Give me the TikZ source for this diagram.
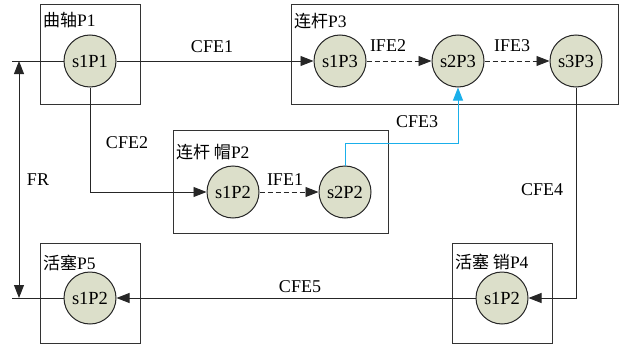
\documentclass[tikz,border=0pt]{standalone}
\usepackage{fontspec}
\setmainfont{Liberation Serif}
\newfontfamily\cjk{Noto Sans CJK SC}
\usetikzlibrary{arrows.meta}
\definecolor{cfill}{HTML}{DCDFCA}
\definecolor{cblue}{HTML}{1AAFEA}
\tikzset{
  st/.style={circle,draw=black!85,line width=1pt,fill=cfill,minimum size=52pt,inner sep=0pt,font=\fontsize{18.5}{20}\selectfont},
  part/.style={draw=black!80,line width=1pt,rectangle,inner sep=0pt},
  ttl/.style={anchor=west,inner sep=0pt,font=\fontsize{17.5}{19}\selectfont},
  lbl/.style={inner sep=0pt,font=\fontsize{18}{20}\selectfont},
  tip/.tip={Triangle[length=13pt,width=10pt]},
  conn/.style={line width=0.9pt,draw=black!85},
  arr/.style={conn,-tip},
  dsh/.style={arr,dash pattern=on 5pt off 3pt},
}
\newcommand{\zh}[1]{{\cjk\fontsize{17}{19}\selectfont #1}}
\begin{document}
\begin{tikzpicture}[x=1pt,y=-1pt]
\useasboundingbox (0,0) rectangle (623,345);
% boxes
\node[part,minimum width=100pt,minimum height=99pt] (B1) at (90,54.5) {};
\node[part,minimum width=327pt,minimum height=99pt] (B3) at (454.5,54.5) {};
\node[part,minimum width=215pt,minimum height=103pt] (B2) at (280.5,181.5) {};
\node[part,minimum width=100pt,minimum height=100pt] (B5) at (90,293) {};
\node[part,minimum width=100pt,minimum height=100pt] (B4) at (502,293) {};
% titles
\node[ttl] (t1) at (43,20) {\zh{曲轴}P1};
\node[ttl] (t3) at (294,21) {\zh{连杆}P3};
\node[ttl] (t2) at (176,152) {\zh{连杆 帽}P2};
\node[ttl] (t5) at (43,263) {\zh{活塞}P5};
\node[ttl] (t4) at (455,262) {\zh{活塞 销}P4};
% states
\node[st] (s1P1) at (90,61) {s1P1};
\node[st] (s1P3) at (340,61) {s1P3};
\node[st] (s2P3) at (458,61) {s2P3};
\node[st] (s3P3) at (576,61) {s3P3};
\node[st] (s1P2) at (233,192) {s1P2};
\node[st] (s2P2) at (345,192) {s2P2};
\node[st] (s1P2d) at (502,298) {s1P2};
\node[st] (s1P2e) at (90,298) {s1P2};
% coordinates
\coordinate (L1) at (12,61);
\coordinate (L5) at (12,298);
\coordinate (FRt) at (19,61);
\coordinate (FRb) at (19,298);
\coordinate (c3) at (458,143);
% connectors
\draw[conn] (L1) -- (s1P1);
\draw[arr] (s1P1) -- (s1P3);
\draw[dsh] (s1P3) -- (s2P3);
\draw[dsh] (s2P3) -- (s3P3);
\draw[arr] (s1P1) |- (s1P2);
\draw[dsh] (s1P2) -- (s2P2);
\draw[arr,draw=cblue] (s2P2) |- (c3) -- (s2P3);
\draw[arr] (s3P3) |- (s1P2d);
\draw[arr] (s1P2d) -- (s1P2e);
\draw[conn] (s1P2e) -- (L5);
\draw[conn,tip-tip] (FRt) -- (FRb);
% labels
\node[lbl] (lCFE1) at (212,47) {CFE1};
\node[lbl] (lIFE2) at (388,46) {IFE2};
\node[lbl] (lIFE3) at (512,46) {IFE3};
\node[lbl] (lCFE2) at (127,143) {CFE2};
\node[lbl] (lCFE3) at (417,122) {CFE3};
\node[lbl] (lIFE1) at (285,180) {IFE1};
\node[lbl] (lCFE4) at (542,190) {CFE4};
\node[lbl] (lCFE5) at (300,287) {CFE5};
\node[lbl] (lFR) at (38,180) {FR};
\end{tikzpicture}
\end{document}
